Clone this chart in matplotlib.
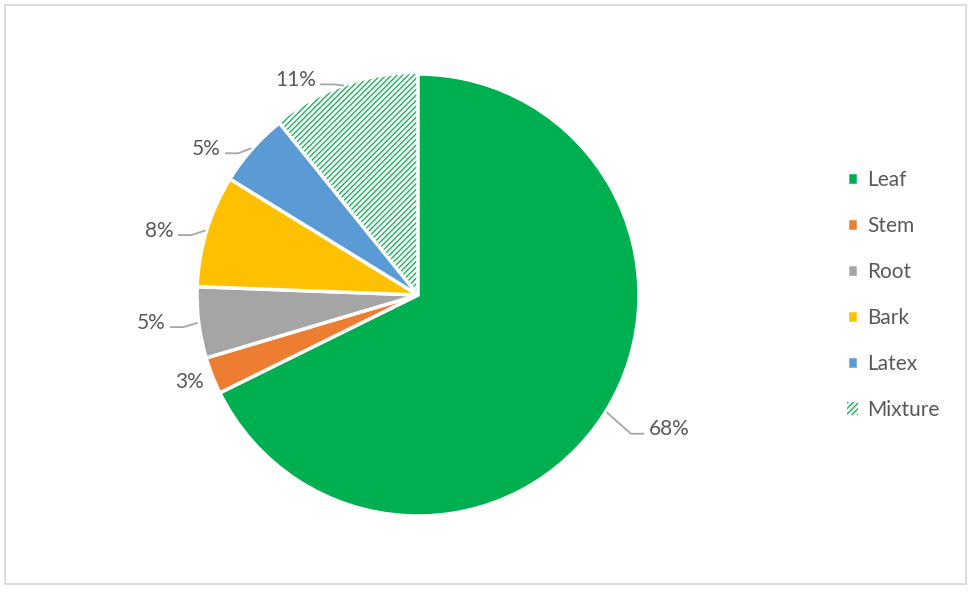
import numpy as np
import matplotlib
matplotlib.use("Agg")
import matplotlib.pyplot as plt
from matplotlib.patches import Rectangle

# -----------------------------------
# Data (share of records by plant part, %)
# -----------------------------------

parts = ["Leaf", "Stem", "Root", "Bark", "Latex", "Mixture"]
shares = [67.7, 2.7, 5.2, 8.2, 5.4, 10.8]
colors = ["#00B050", "#ED7D31", "#A5A5A5", "#FFC000", "#5B9BD5", "white"]

plt.rcParams["font.family"] = ["Lato", "DejaVu Sans"]
plt.rcParams["hatch.linewidth"] = 1.0
text_color = "#595959"
fs = 15

# -----------------------------------
# Figure
# -----------------------------------

W, H = 973, 592
fig = plt.figure(figsize=(W / 100, H / 100), dpi=100)

# pie centre (418, 295) px, radius 221 px
R = 221
cx, cy = 418, H - 295
lim = 1.3
ax = fig.add_axes([(cx - lim * R) / W, (cy - lim * R) / H,
                   2 * lim * R / W, 2 * lim * R / H])

wedges, _ = ax.pie(
    shares,
    colors=colors,
    startangle=90,
    counterclock=False,
    wedgeprops=dict(edgecolor="white", linewidth=2.5),
)
ax.set_xlim(-lim, lim)
ax.set_ylim(-lim, lim)
ax.set_aspect("equal")
ax.axis("off")

# hatched "Mixture" slice
mix = wedges[-1]
mix.set_facecolor("white")
mix.set_edgecolor("#1DB45C")
mix.set_hatch("//////")
mix.set_linewidth(0)
mix.set_zorder(0)

# -----------------------------------
# Percentage labels with leader lines
# -----------------------------------

total = sum(shares)
for w, s in zip(wedges, shares):
    ang = np.deg2rad((w.theta1 + w.theta2) / 2)
    ex, ey = np.cos(ang), np.sin(ang)
    side = 1 if ex > 0 else -1
    pct = f"{round(s / total * 100):d}%"
    if s / total < 0.04:
        ax.text(ex - 0.04, ey - 0.03, pct, ha="right", va="center",
                fontsize=fs, color=text_color)
        continue
    if ex > 0:
        elbow = (ex * 1.04 + 0.08, ey - 0.1)
    elif ey > 0.8:
        elbow = (ex * 1.03 - 0.04, ey + 0.01)
    else:
        elbow = (ex * 1.03 - 0.04, ey - 0.02)
    end = (elbow[0] + side * 0.06, elbow[1])
    ax.plot([ex * 1.005, elbow[0], end[0]], [ey * 1.005, elbow[1], end[1]],
            color="#A6A6A6", lw=1.3, solid_capstyle="butt", clip_on=False)
    ax.text(end[0] + side * 0.02, end[1] + 0.02, pct,
            ha="left" if side > 0 else "right", va="center",
            fontsize=fs, color=text_color)

# -----------------------------------
# Legend
# -----------------------------------

fig.legend(
    wedges, parts,
    loc="center left",
    bbox_to_anchor=(828 / W, 1 - 295 / H),
    frameon=False,
    fontsize=fs,
    labelcolor=text_color,
    handlelength=0.55,
    handleheight=0.55,
    handletextpad=0.45,
    labelspacing=1.25,
)

# outer chart border
fig.patches.append(Rectangle((5 / W, 1 - 584 / H), 961 / W, 579 / H,
                             transform=fig.transFigure, fill=False,
                             edgecolor="#D9D9D9", linewidth=1.3))

fig.savefig("out.png", dpi=100, facecolor="white")
